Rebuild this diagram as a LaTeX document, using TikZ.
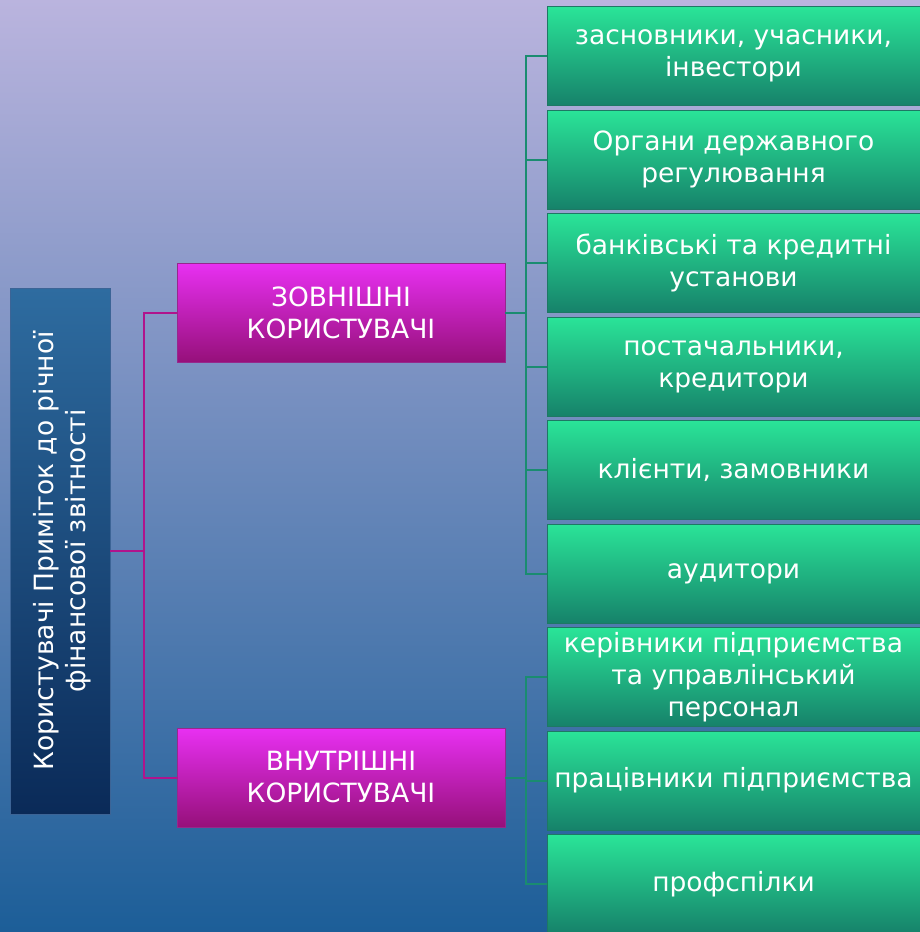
\documentclass[tikz,border=0pt]{standalone}
\usepackage{fontspec}
\setmainfont{DejaVu Sans}
\usetikzlibrary{math,calc}

\definecolor{bgtop}{RGB}{186,180,222}
\definecolor{bgmid}{RGB}{112,148,194}
\definecolor{bgbot}{RGB}{28,94,152}
\definecolor{roottop}{RGB}{46,108,160}
\definecolor{rootbot}{RGB}{10,42,88}
\definecolor{rootedge}{RGB}{60,100,150}
\definecolor{mtop}{RGB}{232,48,242}
\definecolor{mbot}{RGB}{150,16,122}
\definecolor{medge}{RGB}{150,40,140}
\definecolor{mlinecol}{RGB}{176,20,140}
\definecolor{gtop}{RGB}{42,228,152}
\definecolor{gbot}{RGB}{22,130,106}
\definecolor{gedge}{RGB}{30,120,100}
\definecolor{glinecol}{RGB}{26,140,112}

\begin{document}
\begin{tikzpicture}[x=1pt,y=-1pt,
	every node/.style={text=white,align=center,inner sep=0pt,font=\fontsize{26.5}{32}\selectfont},
	rootbox/.style={draw=rootedge,top color=roottop,bottom color=rootbot,minimum width=100pt,minimum height=526pt},
	mbox/.style={draw=medge,top color=mtop,bottom color=mbot,minimum width=328pt,minimum height=99pt},
	gbox/.style={draw=gedge,top color=gtop,bottom color=gbot,minimum width=373pt,minimum height=99pt},
	mline/.style={draw=mlinecol,line width=2pt},
	gline/.style={draw=glinecol,line width=2pt}]
	
	\tikzmath{
		\gx = 733.5;
		\gy = 56;
		\gh = 103.5;
	}
	
	\useasboundingbox (0,0) rectangle (920,932);
	\shade[top color=bgtop,middle color=bgmid,bottom color=bgbot] (0,0) rectangle (920,932);
	
	%---------------------------------------------
	
	\node[rootbox] (root) at (60,551) {};
	\node[rotate=90] (roottxt) at (62,551) {Користувачі Приміток до річної\\фінансової звітності};
	
	\node[mbox] (ext) at (341,312.5) {ЗОВНІШНІ\\КОРИСТУВАЧІ};
	\node[mbox] (int) at (341,777.5) {ВНУТРІШНІ\\КОРИСТУВАЧІ};
	
	\coordinate (mfork) at (144,551);
	\coordinate (efork) at (526,312.5);
	\coordinate (ifork) at (526,777.5);
	
	%---------------------------------------------
	
	\foreach \i/\txt in {1/{засновники, учасники,\\інвестори},
		2/{Органи державного\\регулювання},
		3/{банківські та кредитні\\установи},
		4/{постачальники,\\кредитори},
		5/{клієнти, замовники},
		6/{аудитори},
		7/{керівники підприємства\\та управлінський\\персонал},
		8/{працівники підприємства},
		9/{профспілки}} {
		\node[gbox] (g\i) at (\gx,{\gy+\gh*(\i-1)}) {\txt};
	}
	
	%---------------------------------------------
	
	\draw[mline] (root.east) -- (mfork) |- (ext.west);
	\draw[mline] (mfork) |- (int.west);
	
	\draw[gline] (ext.east) -- (efork);
	\foreach \i in {1,...,6} {
		\draw[gline] (efork) |- (g\i.west);
	}
	
	\draw[gline] (int.east) -- (ifork);
	\foreach \i in {7,8,9} {
		\draw[gline] (ifork) |- (g\i.west);
	}
	
	%---------------------------------------------
	
\end{tikzpicture}
\end{document}
